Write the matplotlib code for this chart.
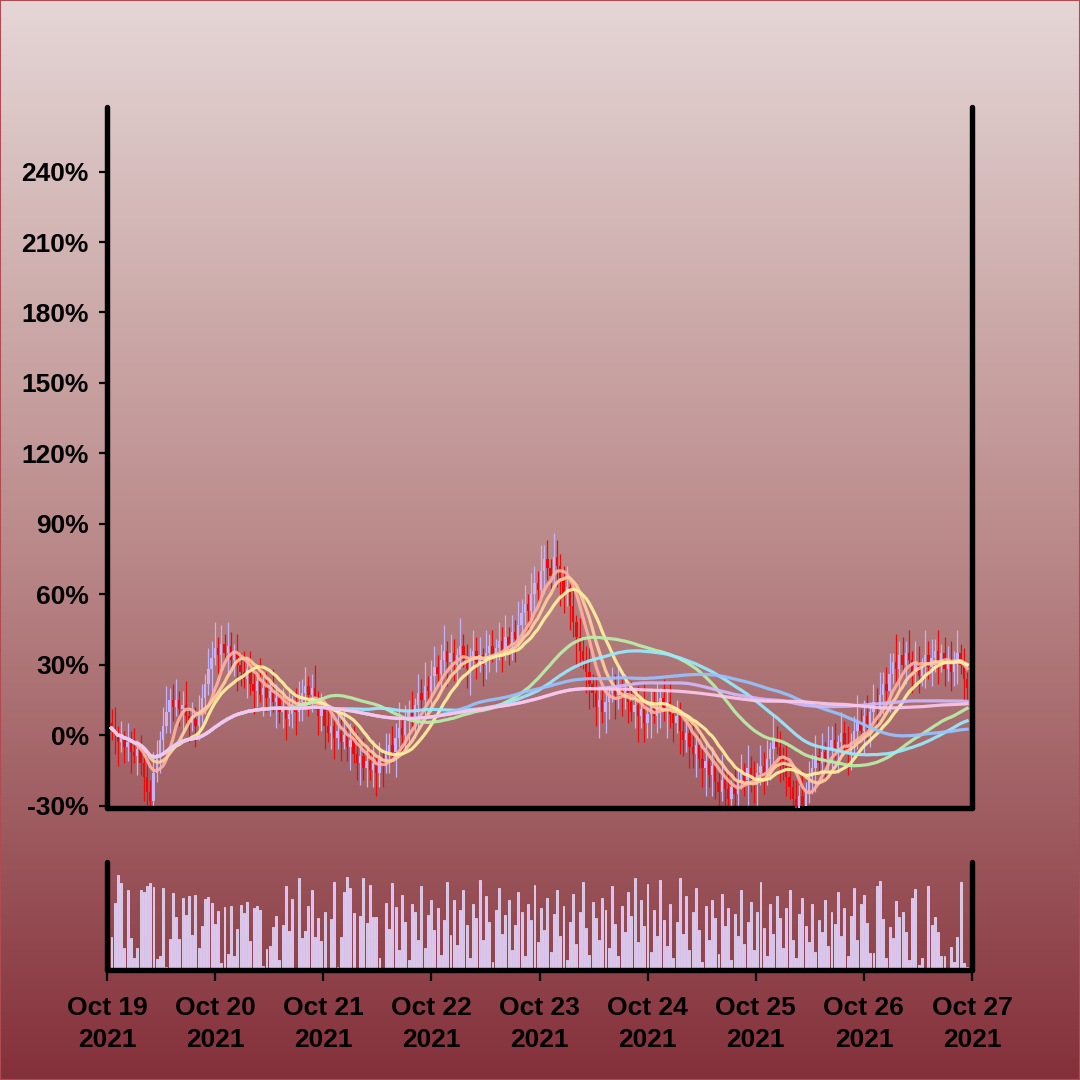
import numpy as np
import pandas as pd
import matplotlib
matplotlib.use("Agg")
import matplotlib.pyplot as plt
import matplotlib.dates as mdates
from matplotlib.colors import LinearSegmentedColormap

plt.rcParams['font.family'] = ['Liberation Sans', 'DejaVu Sans']
plt.rcParams['font.weight'] = 'bold'

# candle closes, in percent
close = [
    3, 0, -3, -1, -5, -3, -7, -9, -6, -12, -18, -24, -28, -16, -8, -2, 4, 10, 15, 12,
    15, 11, 13, 8, 5, 7, 4, 9, 16, 22, 28, 33, 37, 34, 39, 35, 38, 32, 36, 30,
    27, 24, 28, 22, 19, 23, 17, 20, 16, 19, 14, 16, 10, 12, 7, 9, 13, 10, 14, 18,
    21, 17, 20, 14, 8, 11, 4, 1, 4, -1, 2, -3, 0, -5, -2, -8, -12, -9, -14, -11,
    -15, -12, -16, -10, -13, -8, -4, -7, -1, 3, 0, 6, 10, 7, 13, 18, 15, 21, 19, 25,
    29, 26, 32, 36, 31, 35, 30, 34, 38, 32, 28, 33, 36, 31, 34, 30, 35, 38, 34, 37,
    40, 36, 42, 38, 44, 41, 47, 52, 56, 53, 60, 65, 62, 70, 75, 71, 68, 76, 72, 66,
    60, 63, 55, 48, 42, 36, 32, 27, 22, 18, 12, 15, 10, 14, 18, 21, 17, 20, 16, 19,
    14, 10, 13, 8, 11, 5, 9, 13, 8, 12, 16, 11, 14, 9, 5, 8, 2, -2, 1, -5,
    -8, -4, -10, -14, -11, -17, -13, -20, -24, -19, -23, -27, -22, -25, -20, -16, -19, -14, -18, -21,
    -16, -13, -17, -10, -6, -1, -5, -9, -13, -18, -22, -27, -31, -26, -30, -24, -18, -14, -9, -12,
    -7, -10, -6, -2, -6, -3, 1, -4, -8, -3, 2, 6, 2, 8, 4, 10, 14, 11, 17, 22,
    19, 26, 31, 28, 34, 30, 35, 32, 27, 31, 25, 30, 34, 29, 33, 36, 31, 35, 28, 32,
    27, 31, 35, 30, 24, 20,
]
first_open = 5

wick_up = [
    6, 9, 4, 7, 3, 8, 5, 10, 4, 6, 3, 7, 5, 9, 6, 4, 8, 11, 5, 7,
    9, 4, 6, 10, 3, 7, 5, 8, 6, 4, 9, 7, 11, 5, 8, 4, 10, 6, 3, 7,
    5, 9, 4, 8, 6, 3, 10, 5, 7, 4, 9, 6, 3, 8, 5, 11, 4, 7, 9, 6,
    8, 4, 6, 10, 5, 7, 3, 9, 6, 4, 8, 5, 11, 3, 7, 6, 9, 4, 8, 5,
    6, 10, 4, 7, 3, 9, 5, 8, 6, 11, 4, 7, 5, 9, 3, 8, 6, 10, 4, 7,
    9, 5, 7, 11, 4, 8, 6, 3, 12, 5, 7, 4, 9, 6, 8, 3, 10, 5, 7, 4,
    8, 6, 9, 4, 7, 5, 10, 6, 8, 4, 9, 7, 5, 11, 6, 8, 4, 10, 7, 5,
    6, 9, 4, 7, 3, 8, 5, 6, 10, 4, 7, 5, 9, 6, 3, 8, 5, 10, 4, 7,
    6, 9, 4, 8, 5, 11, 3, 7, 6, 10, 4, 8, 5, 9, 3, 7, 6, 4, 8, 5,
    10, 4, 7, 5, 9, 3, 8, 6, 4, 11, 5, 7, 3, 9, 6, 8, 4, 10, 5, 7,
    4, 9, 6, 8, 3, 10, 5, 7, 4, 9, 6, 3, 8, 5, 11, 4, 7, 6, 9, 5,
    8, 4, 10, 6, 7, 3, 9, 5, 8, 4, 6, 11, 5, 7, 9, 4, 8, 6, 10, 5,
    7, 9, 4, 12, 6, 8, 5, 10, 4, 9, 7, 3, 11, 6, 8, 5, 9, 4, 7, 6,
    8, 5, 10, 4, 7, 3,
]

wick_dn = [
    5, 8, 10, 4, 7, 6, 9, 3, 8, 5, 10, 6, 9, 7, 4, 8, 5, 3, 9, 6,
    4, 7, 10, 5, 8, 3, 9, 6, 4, 7, 5, 10, 3, 8, 6, 4, 9, 5, 7, 11,
    6, 4, 8, 5, 10, 7, 3, 9, 6, 8, 4, 11, 5, 7, 9, 3, 6, 10, 4, 8,
    5, 9, 7, 3, 8, 6, 10, 4, 7, 9, 5, 8, 3, 6, 10, 4, 7, 9, 5, 8,
    4, 7, 10, 6, 9, 3, 8, 5, 11, 4, 7, 6, 9, 3, 8, 10, 5, 7, 4, 9,
    6, 3, 8, 5, 10, 4, 7, 9, 6, 3, 8, 11, 5, 7, 4, 9, 6, 8, 3, 7,
    5, 9, 4, 8, 6, 10, 3, 7, 5, 9, 4, 8, 6, 3, 10, 5, 7, 4, 9, 11,
    8, 5, 10, 6, 12, 7, 4, 9, 11, 6, 8, 13, 5, 9, 7, 4, 10, 6, 8, 5,
    9, 4, 7, 11, 5, 8, 6, 10, 3, 7, 9, 5, 12, 6, 8, 4, 10, 7, 5, 9,
    6, 10, 4, 8, 12, 5, 9, 7, 11, 4, 8, 6, 10, 5, 9, 3, 7, 11, 6, 8,
    10, 5, 8, 4, 9, 7, 3, 11, 6, 8, 5, 10, 4, 9, 6, 8, 5, 7, 10, 4,
    7, 9, 5, 8, 4, 10, 6, 3, 9, 7, 5, 8, 4, 10, 6, 9, 5, 7, 3, 8,
    6, 9, 4, 7, 10, 5, 8, 3, 9, 6, 7, 4, 10, 5, 8, 6, 9, 4, 7, 5,
    8, 6, 9, 4, 10, 7,
]

volume = [
    33, 67, 95, 87, 22, 80, 32, 12, 22, 80, 78, 84, 87, 83, 11, 14, 82, 3, 31, 77,
    53, 31, 72, 55, 74, 35, 75, 22, 44, 71, 73, 67, 46, 59,
    7, 63, 16, 64, 14, 41, 65, 57, 68, 29, 62, 64, 60, 4, 21, 24, 43, 54, 10, 45,
    84, 39, 71, 2, 92, 32, 39, 64, 80, 33, 52, 29, 58,
    2, 51, 88, 3, 33, 78, 93, 82, 57, 2, 54, 92, 47, 85, 53, 53, 12, 1, 67, 41, 87, 63,
    20, 75, 48, 10, 66, 58, 30, 84, 22, 55, 70, 40,
    62, 15, 50, 88, 35, 70, 25, 60, 80, 45, 12, 66,
    52, 90, 30, 74, 48, 8, 60, 82, 36, 55, 70, 20,
    45, 78, 58, 14, 66, 50, 85, 28, 62, 40, 72, 18,
    56, 80, 34, 64, 10, 48, 76, 26, 58, 88, 42, 15,
    68, 52, 30, 72, 60, 22, 84, 46, 14, 64, 38, 78,
    54, 92, 28, 70, 44, 86, 18, 60, 34, 90, 50, 24,
    66, 12, 48, 92, 36, 74, 20, 58, 82, 40, 8, 64,
    30, 70, 52, 16, 76, 44, 62, 10, 56, 34, 80, 26,
    48, 68, 20, 58, 88, 42, 14, 66, 36, 74, 52, 22,
    62, 80, 30, 12, 56, 72, 44, 28, 66, 18, 50,
    38, 70, 24, 58, 46, 78, 34, 62, 14, 54, 82,
    30, 66, 75, 47, 17, 17, 84, 89, 51, 12, 43, 32, 69, 53, 58, 38, 10, 72, 81, 5,
    12, 2, 84, 45, 53, 38, 14, 14, 2, 23, 8, 33, 88, 7, 3,
]

ma_windows = [8, 12, 18, 55, 70, 100, 150, 200]
ma_colors = ['#ffafa0', '#ffcda0', '#fff0a0', '#b9f0aa', '#96ebff', '#96c3ff', '#cdb9fa', '#fac8eb']

n = min(len(close), len(wick_up), len(wick_dn), len(volume))
dates = pd.date_range('2021-10-19 01:00', periods=n, freq='43min')
df = pd.DataFrame({'close': close[:n], 'wu': wick_up[:n], 'wd': wick_dn[:n], 'vol': volume[:n]}, index=dates)
df['open'] = df['close'].shift(1).fillna(first_open)
df['high'] = df[['open', 'close']].max(axis=1) + df['wu']
df['low'] = df[['open', 'close']].min(axis=1) - df['wd']

x = mdates.date2num(df.index.to_pydatetime())
step = 43 / 1440

fig = plt.figure(figsize=(10.8, 10.8), dpi=100)

# gradient background
bg = fig.add_axes([0, 0, 1, 1], zorder=-10)
cmap = LinearSegmentedColormap.from_list('bg', ['#e5d6d6', '#bb8a8a', '#84303a'])
bg.imshow(np.linspace(0, 1, 256).reshape(-1, 1), aspect='auto', cmap=cmap, extent=[0, 1, 0, 1])
bg.set_axis_off()
fig.patches.append(plt.Rectangle((0, 0), 1, 1, transform=fig.transFigure, fill=False,
                                 edgecolor='#b04a55', linewidth=1.5))

ax = fig.add_axes([107 / 1080, 1 - 808 / 1080, 865 / 1080, 701 / 1080])
ax.set_facecolor('none')

up = df['close'] >= df['open']
colors = np.where(up, '#c6b2f6', '#ee0a0a')
ax.vlines(x, df['low'], df['high'], colors=colors, linewidth=0.9, zorder=2)
body_h = (df['close'] - df['open']).abs().clip(lower=0.4)
ax.bar(x, body_h, bottom=df[['open', 'close']].min(axis=1), width=step * 0.72,
       color=colors, linewidth=0, zorder=3)

for w, c in zip(ma_windows, ma_colors):
    ma = df['close'].rolling(w, min_periods=1).mean()
    ax.plot(x, ma, color=c, linewidth=2.3, alpha=0.92, zorder=4)

ax.set_ylim(-31, 267.5)
ax.set_yticks(np.arange(-30, 241, 30))
ax.set_yticklabels([f'{v}%' for v in range(-30, 241, 30)])
ax.set_xlim(mdates.date2num(pd.Timestamp('2021-10-19')), mdates.date2num(pd.Timestamp('2021-10-27')))
ax.tick_params(axis='y', length=6, width=1.6, pad=7, labelsize=19, colors='black')
ax.tick_params(axis='x', bottom=False, labelbottom=False)

vax = fig.add_axes([107 / 1080, 1 - 970 / 1080, 865 / 1080, 108 / 1080], sharex=ax)
vax.set_facecolor('none')
vax.bar(x, df['vol'], width=step * 0.6, color='#d4c0f7', edgecolor='#efe6ff', linewidth=0.5)
vax.set_ylim(0, 108)
vax.set_yticks([])
vax.xaxis.set_major_locator(mdates.DayLocator())
vax.xaxis.set_major_formatter(mdates.DateFormatter('%b %d\n%Y'))
vax.tick_params(axis='x', length=8, width=1.6, pad=11, labelsize=19, colors='black')
for lab in vax.get_xticklabels():
    lab.set_linespacing(1.4)

for a in (ax, vax):
    a.spines['top'].set_visible(False)
    for s in ('left', 'right', 'bottom'):
        a.spines[s].set_linewidth(3.9)
        a.spines[s].set_color('black')
        a.spines[s].set_capstyle('round')
    for lab in a.get_xticklabels() + a.get_yticklabels():
        lab.set_fontweight('bold')

fig.savefig('out.png', dpi=100)
